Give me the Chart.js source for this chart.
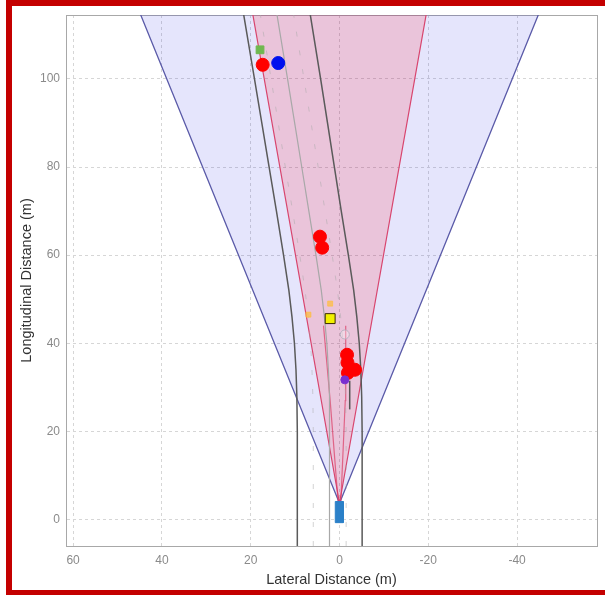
<!DOCTYPE html>
<html lang="en">

<head>
    <meta charset="UTF-8" />
    <title>Bird's-Eye Plot</title>
    <script src="https://cdn.jsdelivr.net/npm/chart.js"></script>
    <style>
        body {
            margin: 0;
            background: #fff;
        }

        #wrap {
            position: relative;
            width: 605px;
            height: 595px;
        }

        canvas {
            position: absolute;
            left: 0;
            top: 0;
        }

        #frame {
            position: absolute;
            left: 6px;
            top: 0;
            width: 599px;
            height: 595px;
            box-sizing: border-box;
            border-top: 6px solid #c40000;
            border-left: 6px solid #c40000;
            border-bottom: 5px solid #c40000;
            pointer-events: none;
        }
    </style>
</head>

<body>
    <div id="wrap">
        <canvas id="bep" width="605" height="595"></canvas>
        <div id="frame"></div>
    </div>

    <script>
        // axes (lateral axis runs right to left)
        const xTicks = [60, 40, 20, 0, -20, -40];
        const yTicks = [0, 20, 40, 60, 80, 100];

        // [lateral, longitudinal] in metres
        const radarCoverage = [[0, 3.7], [56.2, 142.8], [-56.2, 142.8], [0, 3.7]];
        const visionCoverage = [[0, 3.7], [26, 151.4], [-26, 151.4], [0, 3.7]];
        const visionInnerLeft = [[0.3, 3.9], [2.1, 27], [3.6, 44]];
        const visionInnerRight = [[-0.3, 3.9], [-1.3, 27], [-1.4, 44]];

        const laneLeft = [[9.5, -6], [9.5, 20], [9.6, 28], [9.8, 34], [10.15, 40], [10.7, 46], [11.4, 52],
            [12.6, 60], [14.2, 70], [15.85, 80], [17.5, 90], [19.15, 100], [21.65, 115]];
        const laneCenter = [[2.2, -6], [2.2, 20], [2.3, 28], [2.5, 34], [2.85, 40], [3.4, 46], [4.1, 52],
            [5.3, 60], [6.9, 70], [8.5, 80], [10.1, 90], [11.7, 100], [14.15, 115]];
        const laneRight = [[-5.1, -6], [-5.1, 20], [-5.0, 28], [-4.8, 34], [-4.45, 40], [-3.9, 46], [-3.2, 52],
            [-2.0, 60], [-0.4, 70], [1.15, 80], [2.7, 90], [4.25, 100], [6.65, 115]];
        const dashLeft = [[5.9, -6], [5.9, 20], [6.0, 28], [6.2, 34], [6.5, 40], [7.05, 46], [7.75, 52],
            [8.95, 60], [10.55, 70], [12.2, 80], [13.8, 90], [15.4, 100], [17.9, 115]];
        const dashRight = [[-1.5, -6], [-1.5, 20], [-1.35, 28], [-1.15, 34], [-0.8, 40], [-0.25, 46], [0.45, 52],
            [1.65, 60], [3.25, 70], [4.8, 80], [6.4, 90], [8.0, 100], [10.4, 115]];
        const trackTrail = [[-2.3, 25], [-2.3, 31.5]];

        const egoCar = [[0.95, -0.7], [0.95, 4.1], [-0.85, 4.1], [-0.85, -0.7], [0.95, -0.7]];

        const radarDetections = [[17.3, 103.2], [4.4, 64.2], [3.9, 61.7], [-1.7, 37.4], [-1.8, 35.6],
            [-3.5, 34.0], [-1.9, 33.3]];
        const visionDetections = [[13.8, 103.6]];
        const greenTracks = [[17.9, 106.6]];
        const yellowTracks = [[2.1, 45.6]];
        const orangeTracks = [[2.1, 49.0], [7.0, 46.5]];
        const purpleDetections = [[-1.2, 31.7]];
        const oldTracks = [[-1.2, 42.0]];

        const pts = arr => arr.map(([x, y]) => ({ x: x, y: y }));

        function lineSet(data, color, width, extra) {
            return Object.assign({
                data: pts(data), showLine: true, pointRadius: 0,
                borderColor: color, borderWidth: width, fill: false, tension: 0
            }, extra || {});
        }

        function markerSet(data, style, color, radius, border) {
            return {
                data: pts(data), showLine: false, pointStyle: style, pointRadius: radius,
                backgroundColor: color, borderColor: border || color, borderWidth: 1
            };
        }

        const tickFont = { family: "Liberation Sans", size: 12 };
        const titleFont = { family: "Liberation Sans", size: 14.5 };

        new Chart(document.getElementById("bep"), {
            type: "scatter",
            data: {
                datasets: [
                    markerSet(purpleDetections, "circle", "#7a2fd0", 4),
                    markerSet(radarDetections, "circle", "#ff0000", 6.5),
                    markerSet(visionDetections, "circle", "#0010ee", 6.5),
                    markerSet(greenTracks, "rect", "#70b850", 5.5),
                    markerSet(yellowTracks, "rect", "#f2f000", 7, "#3a2a00"),
                    markerSet(orangeTracks, "rect", "rgba(255,190,60,0.7)", 3.5),
                    markerSet(oldTracks, "circle", "rgba(255,255,255,0.3)", 4.5, "#b8b0c0"),
                    lineSet(egoCar, "#2b80c8", 1, { fill: "shape", backgroundColor: "#2b80c8" }),
                    lineSet(trackTrail, "#555", 1.5),
                    lineSet(laneLeft, "#5a5a5a", 1.5),
                    lineSet(laneRight, "#5a5a5a", 1.5),
                    lineSet(laneCenter, "#a8a8a8", 1.2),
                    lineSet(dashLeft, "rgba(170,170,170,0.5)", 1, { borderDash: [5, 14] }),
                    lineSet(dashRight, "rgba(170,170,170,0.5)", 1, { borderDash: [5, 14] }),
                    lineSet(visionInnerLeft, "rgba(220,60,100,0.7)", 1.2),
                    lineSet(visionInnerRight, "rgba(220,60,100,0.7)", 1.2),
                    lineSet(visionCoverage, "#d8456e", 1.2, { fill: "shape", backgroundColor: "rgba(255,30,50,0.17)" }),
                    lineSet(radarCoverage, "#5a5aa8", 1.3, { fill: "shape", backgroundColor: "rgba(0,0,230,0.1)" })
                ]
            },
            options: {
                animation: false,
                responsive: false,
                devicePixelRatio: 1,
                layout: { padding: 0 },
                plugins: {
                    legend: { display: false },
                    tooltip: { enabled: false }
                },
                scales: {
                    x: {
                        type: "linear", position: "bottom", reverse: true, min: -58, max: 61.6,
                        afterBuildTicks: s => { s.ticks = xTicks.map(v => ({ value: v })); },
                        afterFit: s => { s.height = 49; },
                        grid: { color: "#d6d6d6", drawTicks: false },
                        border: { color: "#a8a8a8", dash: [3, 3] },
                        ticks: { color: "#8a8a8a", padding: 7, font: tickFont },
                        title: {
                            display: true, text: "Lateral Distance (m)", color: "#333",
                            font: titleFont, padding: { top: 0, bottom: 6.3 }
                        }
                    },
                    y: {
                        type: "linear", position: "left", min: -6, max: 114.5,
                        afterBuildTicks: s => { s.ticks = yTicks.map(v => ({ value: v })); },
                        afterFit: s => { s.width = 66; },
                        grid: { color: "#d6d6d6", drawTicks: false },
                        border: { color: "#a8a8a8", dash: [3, 3] },
                        ticks: { color: "#8a8a8a", padding: 6, font: tickFont },
                        title: {
                            display: true, text: "Longitudinal Distance (m)", color: "#333",
                            font: titleFont, padding: { top: 17.8, bottom: 0 }
                        }
                    },
                    x2: {
                        type: "linear", position: "top", display: true,
                        ticks: { display: false }, grid: { display: false },
                        border: { display: true, color: "#a8a8a8" },
                        afterFit: s => { s.height = 15; }
                    },
                    y2: {
                        type: "linear", position: "right", display: true,
                        ticks: { display: false }, grid: { display: false },
                        border: { display: true, color: "#a8a8a8" },
                        afterFit: s => { s.width = 8; }
                    }
                }
            }
        });
    </script>
</body>

</html>
